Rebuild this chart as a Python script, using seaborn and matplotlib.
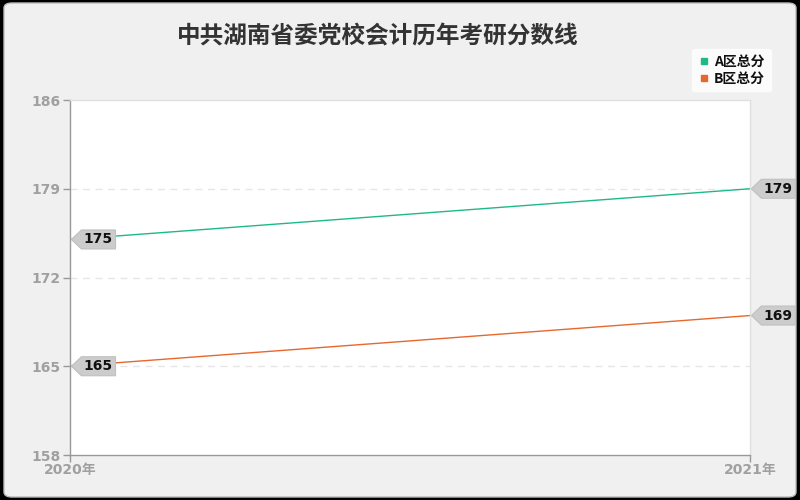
import matplotlib
matplotlib.use("Agg")
import matplotlib.pyplot as plt
import seaborn as sns
import pandas as pd
from matplotlib.patches import FancyBboxPatch
from matplotlib.lines import Line2D
from matplotlib.path import Path

years = [2020, 2021]
year_labels = ["2020年", "2021年"]
series_names = ["A区总分", "B区总分"]
a_scores = [175, 179]
b_scores = [165, 169]
y_ticks = [158, 165, 172, 179, 186]
colors = ["#1db98a", "#e8672e"]
title = "中共湖南省委党校会计历年考研分数线"

sns.set_theme(style="white")
plt.rcParams['font.family'] = ['Noto Sans CJK SC', 'DejaVu Sans']
plt.rcParams['hatch.color'] = '#f3f3f3'
plt.rcParams['hatch.linewidth'] = 0.6
latin_first = ['DejaVu Sans', 'Noto Sans CJK SC']


def tag_box(x0, y0, width, height, mutation_size):
    pad = 0.18 * mutation_size
    tip = 0.72 * mutation_size
    left = x0 - pad
    right = x0 + width + pad
    bottom = y0 - pad
    top = y0 + height + pad
    mid = (bottom + top) / 2
    verts = [(left - tip, mid), (left, bottom), (right, bottom), (right, top),
             (left, top), (left - tip, mid)]
    codes = [Path.MOVETO] + [Path.LINETO] * 4 + [Path.CLOSEPOLY]
    return Path(verts, codes)


df = pd.DataFrame({
    "year": years * 2,
    "score": a_scores + b_scores,
    "series": [series_names[0]] * 2 + [series_names[1]] * 2,
})

fig = plt.figure(figsize=(8, 5), dpi=100)
fig.patch.set_facecolor("#000000")
bg = FancyBboxPatch((0.005, 0.006), 0.99, 0.988, boxstyle="round,pad=0,rounding_size=0.01",
                    transform=fig.transFigure, facecolor="#f0f0f0", edgecolor="#bbbbbb",
                    linewidth=1, zorder=-10)
fig.patches.append(bg)

ax = fig.add_axes([0.0875, 0.09, 0.85, 0.71])
ax.set_facecolor("white")
ax.patch.set_hatch("////")

sns.lineplot(data=df, x="year", y="score", hue="series", palette=colors,
             linewidth=1, ax=ax, legend=False)

ax.set_xlim(years[0], years[-1])
ax.set_ylim(y_ticks[0], y_ticks[-1])
ax.set_yticks(y_ticks)
ax.set_xticks(years)
ax.set_xticklabels(year_labels)
ax.set_xlabel("")
ax.set_ylabel("")
for t in y_ticks[1:-1]:
    ax.axhline(t, color="#e6e6e6", linestyle=(0, (5, 4)), linewidth=1, zorder=0)

ax.tick_params(axis="both", colors="#999999", labelsize=10, length=5, width=1,
               direction="out", left=True, bottom=True)
ax.tick_params(axis="y", pad=2)
ax.tick_params(axis="x", pad=1)
for lbl in ax.get_xticklabels() + ax.get_yticklabels():
    lbl.set_color("#a0a0a0")
    lbl.set_family(latin_first)
    lbl.set_fontweight("bold")

for side in ["left", "bottom"]:
    ax.spines[side].set_color("#999999")
    ax.spines[side].set_linewidth(1)
for side in ["top", "right"]:
    ax.spines[side].set_color("#e0e0e0")
    ax.spines[side].set_linewidth(1)

for vals in [a_scores, b_scores]:
    for x, v in zip(years, vals):
        ax.annotate(str(v), xy=(x, v), xytext=(10, 0), textcoords="offset points",
                    ha="left", va="center", fontsize=10, fontweight="bold", color="#111111",
                    family=latin_first,
                    bbox=dict(boxstyle=tag_box, facecolor="#cccccc",
                              edgecolor="#c0c0c0", linewidth=0.8),
                    annotation_clip=False, zorder=5)

fig.text(0.472, 0.928, title, ha="center", va="center", fontsize=17,
         fontweight="bold", color="#333333")

handles = [Line2D([0], [0], marker="s", linestyle="", markersize=4,
                  markerfacecolor=c, markeredgecolor=c) for c in colors]
leg = fig.legend(handles, series_names, loc="upper right", bbox_to_anchor=(0.972, 0.915),
                 frameon=True, fontsize=10, handletextpad=0.2, borderpad=0.4,
                 labelspacing=0.2, handlelength=1.0, fancybox=True)
leg.get_frame().set_facecolor("white")
leg.get_frame().set_edgecolor("white")
for t in leg.get_texts():
    t.set_fontweight("bold")
    t.set_color("#111111")

fig.savefig("out.png", dpi=100, facecolor=fig.get_facecolor())
